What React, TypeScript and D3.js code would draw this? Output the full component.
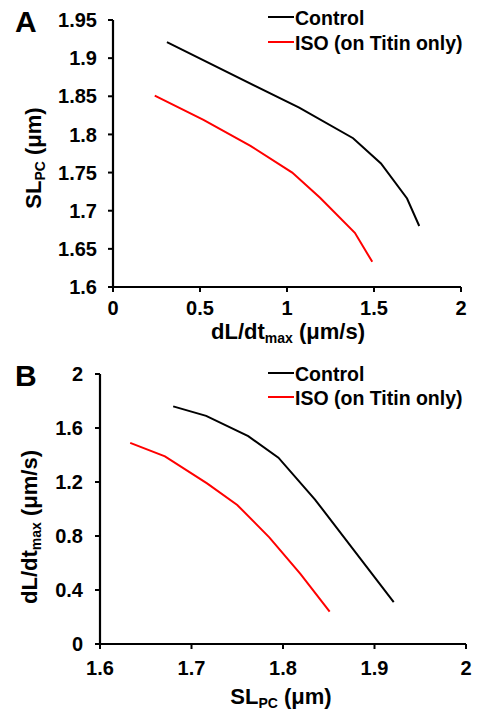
import React from "react";
import * as d3 from "d3";

// Control: [dL/dt_max (µm/s), SL_PC (µm)]
const controlDLdt = [0.31, 1.07, 1.38, 1.54, 1.69, 1.76];
const controlSL = [1.921, 1.835, 1.795, 1.762, 1.716, 1.68];
// ISO (on Titin only)
const isoDLdt = [0.24, 0.52, 0.79, 1.03, 1.19, 1.39, 1.49];
const isoSL = [1.851, 1.819, 1.785, 1.75, 1.717, 1.671, 1.633];

const aXTicks = [0, 0.5, 1, 1.5, 2];
const aXTickLabels = ["0", "0.5", "1", "1.5", "2"];
const aYTicks = [1.6, 1.65, 1.7, 1.75, 1.8, 1.85, 1.9, 1.95];
const aYTickLabels = ["1.6", "1.65", "1.7", "1.75", "1.8", "1.85", "1.9", "1.95"];
const bXTicks = [1.6, 1.7, 1.8, 1.9, 2];
const bXTickLabels = ["1.6", "1.7", "1.8", "1.9", "2"];
const bYTicks = [0, 0.4, 0.8, 1.2, 1.6, 2];
const bYTickLabels = ["0", "0.4", "0.8", "1.2", "1.6", "2"];

const seriesNames = ["Control", "ISO (on Titin only)"];
const seriesColors = ["#000000", "#ff0000"];

const FONT = "'Liberation Sans', Arial, sans-serif";

type Pt = [number, number];

function Panel(props: {
  xDomain: [number, number];
  xRange: [number, number];
  yDomain: [number, number];
  yRange: [number, number];
  xTicks: number[];
  xTickLabels: string[];
  yTicks: number[];
  yTickLabels: string[];
  series: Pt[][];
  letter: string;
  letterPos: [number, number];
  xLabelY: number;
  yLabelX: number;
  legendX: number;
  legendY: number[];
  xTitle: React.ReactNode;
  xTitlePos: [number, number];
  yTitle: React.ReactNode;
  yTitlePos: [number, number];
}) {
  const x = d3.scaleLinear().domain(props.xDomain).range(props.xRange);
  const y = d3.scaleLinear().domain(props.yDomain).range(props.yRange);
  const line = d3
    .line<Pt>()
    .x((d) => x(d[0]))
    .y((d) => y(d[1]));
  const x0 = props.xRange[0];
  const y0 = props.yRange[0];
  return (
    <g fontFamily={FONT} fontWeight="bold" fill="#000">
      <text x={props.letterPos[0]} y={props.letterPos[1]} fontSize={30}>
        {props.letter}
      </text>
      {/* axes */}
      <line x1={x0} x2={x0} y1={props.yRange[1]} y2={y0} stroke="#000" strokeWidth={2.2} />
      <line x1={x0} x2={props.xRange[1]} y1={y0} y2={y0} stroke="#000" strokeWidth={2.2} />
      {props.yTicks.map((t, i) => (
        <g key={"y" + i}>
          <line x1={x0 - 5} x2={x0} y1={y(t)} y2={y(t)} stroke="#000" strokeWidth={2} />
          <text x={props.yLabelX} y={y(t)} dy="0.36em" textAnchor="end" fontSize={20}>
            {props.yTickLabels[i]}
          </text>
        </g>
      ))}
      {props.xTicks.map((t, i) => (
        <g key={"x" + i}>
          <line x1={x(t)} x2={x(t)} y1={y0} y2={y0 + 5} stroke="#000" strokeWidth={2} />
          <text x={x(t)} y={props.xLabelY} textAnchor="middle" fontSize={20}>
            {props.xTickLabels[i]}
          </text>
        </g>
      ))}
      {props.series.map((s, i) => (
        <path key={"s" + i} d={line(s) || ""} fill="none" stroke={seriesColors[i]} strokeWidth={2} />
      ))}
      {seriesNames.map((n, i) => (
        <g key={"l" + i}>
          <line
            x1={props.legendX}
            x2={props.legendX + 26}
            y1={props.legendY[i]}
            y2={props.legendY[i]}
            stroke={seriesColors[i]}
            strokeWidth={2}
          />
          <text x={props.legendX + 27} y={props.legendY[i] + 8} fontSize={19.5}>
            {n}
          </text>
        </g>
      ))}
      <text x={props.xTitlePos[0]} y={props.xTitlePos[1]} textAnchor="middle" fontSize={22}>
        {props.xTitle}
      </text>
      <text
        transform={`translate(${props.yTitlePos[0]},${props.yTitlePos[1]}) rotate(-90)`}
        textAnchor="middle"
        fontSize={22}
      >
        {props.yTitle}
      </text>
    </g>
  );
}

export default function App() {
  const controlA: Pt[] = controlDLdt.map((v, i) => [v, controlSL[i]]);
  const isoA: Pt[] = isoDLdt.map((v, i) => [v, isoSL[i]]);
  const controlB: Pt[] = controlSL.map((v, i) => [v, controlDLdt[i]]);
  const isoB: Pt[] = isoSL.map((v, i) => [v, isoDLdt[i]]);

  const dldt = (
    <>
      <tspan>dL/dt</tspan>
      <tspan fontSize={14} dy={4}>max</tspan>
      <tspan dy={-4}> (μm/s)</tspan>
    </>
  );
  const sl = (
    <>
      <tspan>SL</tspan>
      <tspan fontSize={14} dy={4}>PC</tspan>
      <tspan dy={-4}> (μm)</tspan>
    </>
  );

  return (
    <svg
      width={480}
      height={710}
      style={{ position: "absolute", left: 0, top: 0, background: "#fff" }}
    >
      <rect width={480} height={710} fill="#fff" />
      <Panel
        xDomain={[0, 2]}
        xRange={[113, 461]}
        yDomain={[1.6, 1.95]}
        yRange={[287, 20]}
        xTicks={aXTicks}
        xTickLabels={aXTickLabels}
        yTicks={aYTicks}
        yTickLabels={aYTickLabels}
        series={[controlA, isoA]}
        letter="A"
        letterPos={[15, 32]}
        xLabelY={315}
        yLabelX={97}
        legendX={268}
        legendY={[17, 42]}
        xTitle={dldt}
        xTitlePos={[288, 339]}
        yTitle={sl}
        yTitlePos={[41, 158]}
      />
      <Panel
        xDomain={[1.6, 2]}
        xRange={[100, 466]}
        yDomain={[0, 2]}
        yRange={[644, 374]}
        xTicks={bXTicks}
        xTickLabels={bXTickLabels}
        yTicks={bYTicks}
        yTickLabels={bYTickLabels}
        series={[controlB, isoB]}
        letter="B"
        letterPos={[15, 386]}
        xLabelY={675}
        yLabelX={83}
        legendX={268}
        legendY={[373, 397]}
        xTitle={sl}
        xTitlePos={[281, 704]}
        yTitle={dldt}
        yTitlePos={[37, 527]}
      />
    </svg>
  );
}
